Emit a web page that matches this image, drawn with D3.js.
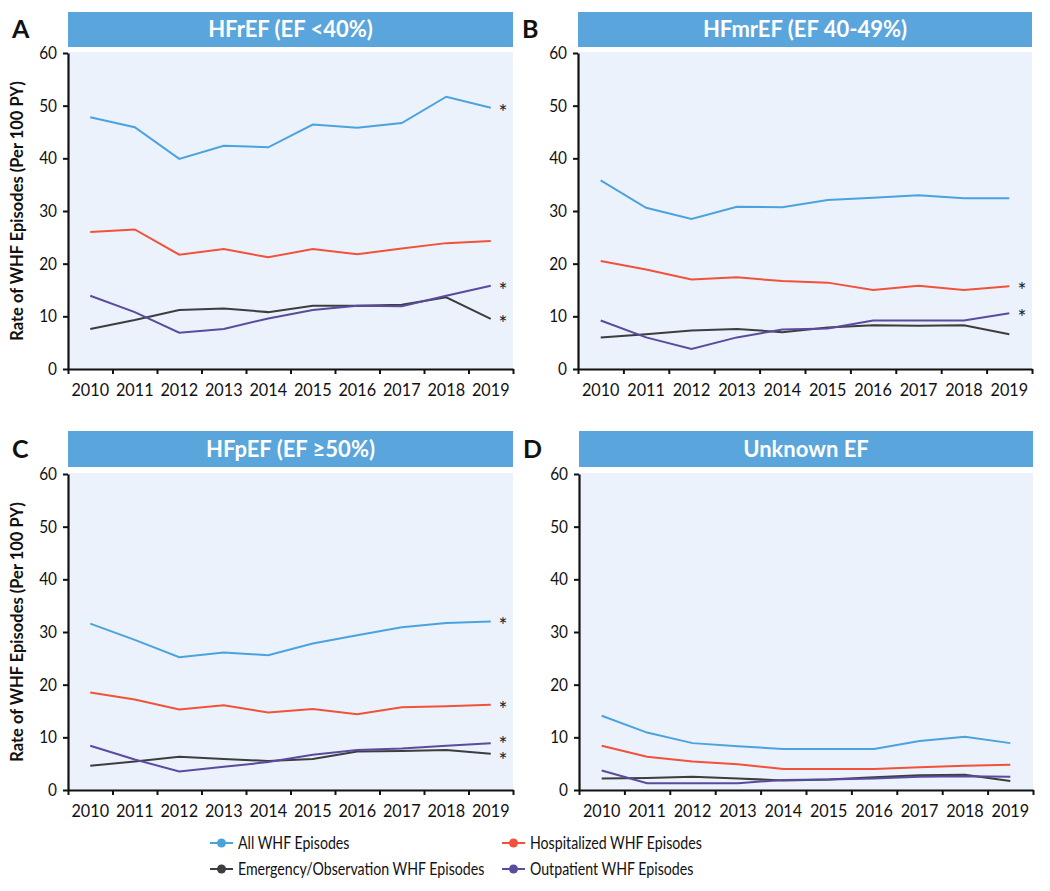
<!DOCTYPE html>
<html>
<head>
<meta charset="utf-8">
<script src="https://cdn.jsdelivr.net/npm/d3@7"></script>
<style>
  body { margin: 0; background: #fff; }
  svg { display: block; font-family: Lato, 'Open Sans', sans-serif; }
</style>
</head>
<body>
<svg id="chart" width="1050" height="891"></svg>
<script>
const years = [2010, 2011, 2012, 2013, 2014, 2015, 2016, 2017, 2018, 2019];
const yTicks = [0, 10, 20, 30, 40, 50, 60];
const seriesNames = [
  'All WHF Episodes',
  'Hospitalized WHF Episodes',
  'Emergency/Observation WHF Episodes',
  'Outpatient WHF Episodes',
];
const seriesColors = ['#4ba3de', '#f2513a', '#3d3d3d', '#5a4b9e'];
const panelLetters = ['A', 'B', 'C', 'D'];
const panelTitles = ['HFrEF (EF <40%)', 'HFmrEF (EF 40-49%)', 'HFpEF (EF ≥50%)', 'Unknown EF'];

// Rates per 100 PY
const hfrefAll = [47.8, 45.9, 39.9, 42.4, 42.1, 46.4, 45.8, 46.7, 51.7, 49.6];
const hfrefHosp = [26.0, 26.5, 21.7, 22.8, 21.2, 22.8, 21.8, 22.9, 23.9, 24.3];
const hfrefEmerg = [7.6, 9.3, 11.2, 11.5, 10.8, 12.0, 12.0, 12.2, 13.6, 9.5];
const hfrefOutpt = [13.9, 10.8, 6.9, 7.6, 9.6, 11.2, 12.0, 11.9, 13.9, 15.8];

const hfmrefAll = [35.8, 30.6, 28.5, 30.8, 30.7, 32.1, 32.5, 33.0, 32.4, 32.4];
const hfmrefHosp = [20.5, 18.9, 17.0, 17.4, 16.7, 16.4, 15.0, 15.8, 15.0, 15.7];
const hfmrefEmerg = [6.0, 6.6, 7.3, 7.6, 7.0, 7.9, 8.3, 8.2, 8.3, 6.6];
const hfmrefOutpt = [9.2, 6.0, 3.8, 6.0, 7.5, 7.7, 9.2, 9.2, 9.2, 10.6];

const hfpefAll = [31.6, 28.5, 25.2, 26.1, 25.6, 27.8, 29.4, 30.9, 31.7, 32.0];
const hfpefHosp = [18.5, 17.2, 15.3, 16.1, 14.7, 15.4, 14.4, 15.7, 15.9, 16.2];
const hfpefEmerg = [4.6, 5.4, 6.3, 5.9, 5.5, 5.9, 7.3, 7.4, 7.6, 6.9];
const hfpefOutpt = [8.4, 5.8, 3.5, 4.4, 5.3, 6.7, 7.6, 7.9, 8.4, 8.9];

const unknownAll = [14.1, 10.9, 8.9, 8.3, 7.8, 7.8, 7.8, 9.3, 10.1, 8.9];
const unknownHosp = [8.4, 6.3, 5.4, 4.9, 4.0, 4.0, 4.0, 4.3, 4.6, 4.8];
const unknownEmerg = [2.2, 2.3, 2.5, 2.2, 1.8, 2.0, 2.4, 2.8, 2.9, 1.7];
const unknownOutpt = [3.7, 1.3, 1.3, 1.3, 1.9, 2.0, 2.2, 2.5, 2.6, 2.5];

// series (by index) flagged with an asterisk at the end of the line
const hfrefStars = [0, 3, 2];
const hfmrefStars = [1, 3];
const hfpefStars = [0, 1, 3, 2];
const unknownStars = [];

const panelData = [
  [hfrefAll, hfrefHosp, hfrefEmerg, hfrefOutpt],
  [hfmrefAll, hfmrefHosp, hfmrefEmerg, hfmrefOutpt],
  [hfpefAll, hfpefHosp, hfpefEmerg, hfpefOutpt],
  [unknownAll, unknownHosp, unknownEmerg, unknownOutpt],
];
const panelStars = [hfrefStars, hfmrefStars, hfpefStars, unknownStars];

// layout of the four panels
const boxes = [
  { left: 68, right: 513, headTop: 12, headBottom: 47, top: 53, bottom: 369, yTitle: true },
  { left: 578, right: 1032, headTop: 12, headBottom: 47, top: 53, bottom: 369, yTitle: false },
  { left: 68, right: 513, headTop: 431, headBottom: 467, top: 474, bottom: 790, yTitle: true },
  { left: 579, right: 1033, headTop: 431, headBottom: 467, top: 474, bottom: 790, yTitle: false },
];

// the original typeface is a semi-condensed sans; squeeze Lato horizontally to match
const squeeze = 0.88;

const svg = d3.select('#chart');

boxes.forEach((b, p) => {
  const g = svg.append('g');

  // header bar
  g.append('rect')
    .attr('x', b.left)
    .attr('y', b.headTop)
    .attr('width', b.right - b.left)
    .attr('height', b.headBottom - b.headTop)
    .attr('fill', '#5aa5dc');
  g.append('text')
    .attr('x', (b.left + b.right) / 2)
    .attr('y', (b.headTop + b.headBottom) / 2 + 7.5)
    .attr('text-anchor', 'middle')
    .attr('fill', '#fff')
    .attr('font-weight', 700)
    .attr('font-size', 22)
    .text(panelTitles[p]);

  // panel letter
  g.append('text')
    .attr('x', b.left - 56)
    .attr('y', (b.headTop + b.headBottom) / 2 + 8.5)
    .attr('font-weight', 700)
    .attr('font-size', 25)
    .attr('fill', '#111')
    .text(panelLetters[p]);

  // plot background
  g.append('rect')
    .attr('x', b.left)
    .attr('y', b.top - 1)
    .attr('width', b.right - b.left)
    .attr('height', b.bottom - b.top + 1)
    .attr('fill', '#ebf2fb');

  const x = d3.scaleBand().domain(years).range([b.left, b.right]).padding(0);
  const xEdges = d3.scaleLinear().domain([0, years.length]).range([b.left, b.right]);
  const y = d3.scaleLinear().domain([0, 60]).range([b.bottom, b.top]);

  // lines
  const line = d3
    .line()
    .x((d, i) => x(years[i]) + x.bandwidth() / 2)
    .y((d) => y(d));

  panelData[p].forEach((values, s) => {
    g.append('path')
      .datum(values)
      .attr('d', line)
      .attr('fill', 'none')
      .attr('stroke', seriesColors[s])
      .attr('stroke-width', 2);
  });

  // asterisks, nudged apart where they would collide
  let stars = panelStars[p].map((s) => ({ s, y: y(panelData[p][s][years.length - 1]) }));
  stars.sort((a, b2) => a.y - b2.y);
  for (let k = 1; k < stars.length; k++) {
    const gap = stars[k].y - stars[k - 1].y;
    if (gap < 16) {
      const push = (16 - gap) / 2;
      stars[k - 1].y -= push;
      stars[k].y += push;
    }
  }
  g.selectAll('.star')
    .data(stars)
    .enter()
    .append('text')
    .attr('class', 'star')
    .attr('x', b.right - 10)
    .attr('y', (d) => d.y + 12)
    .attr('text-anchor', 'middle')
    .attr('font-size', 21)
    .attr('fill', '#222')
    .text('*');

  // x axis: boundary ticks, then centred year labels
  const xTickAxis = g
    .append('g')
    .attr('transform', `translate(0,${b.bottom})`)
    .call(
      d3
        .axisBottom(xEdges)
        .tickValues(d3.range(years.length + 1))
        .tickSize(5)
        .tickSizeOuter(0)
        .tickFormat('')
    );
  xTickAxis.select('.domain').attr('stroke', '#111').attr('stroke-width', 2);
  xTickAxis.selectAll('.tick line').attr('stroke', '#111').attr('stroke-width', 2);

  const xLabelAxis = g
    .append('g')
    .attr('transform', `translate(0,${b.bottom})`)
    .call(d3.axisBottom(x).tickSize(0).tickPadding(14));
  xLabelAxis.select('.domain').remove();
  xLabelAxis
    .selectAll('text')
    .attr('font-size', 18)
    .attr('font-family', 'Lato, sans-serif')
    .attr('transform', 'scale(0.9,1)')
    .attr('fill', '#111');

  // y axis
  const yAxis = g
    .append('g')
    .attr('transform', `translate(${b.left},0)`)
    .call(d3.axisLeft(y).tickValues(yTicks).tickSize(5).tickSizeOuter(0).tickPadding(6));
  yAxis.select('.domain').attr('stroke', '#111').attr('stroke-width', 2.2);
  yAxis.selectAll('.tick line').attr('stroke', '#111').attr('stroke-width', 2);
  yAxis
    .selectAll('text')
    .attr('font-size', 17.5)
    .attr('font-family', 'Lato, sans-serif')
    .attr('x', -11 / squeeze)
    .attr('transform', `scale(${squeeze},1)`)
    .attr('fill', '#111');

  if (b.yTitle) {
    g.append('text')
      .attr('transform', `translate(${b.left - 45},${(b.top + b.bottom) / 2}) rotate(-90)`)
      .attr('text-anchor', 'middle')
      .attr('font-weight', 700)
      .attr('font-size', 16.5)
      .attr('fill', '#111')
      .text('Rate of WHF Episodes (Per 100 PY)');
  }
});

// legend
const legendPos = [
  { x: 210, y: 843 },
  { x: 502, y: 843 },
  { x: 210, y: 869 },
  { x: 502, y: 869 },
];
const legend = svg
  .append('g')
  .selectAll('g')
  .data(seriesNames)
  .enter()
  .append('g')
  .attr('transform', (d, i) => `translate(${legendPos[i].x},${legendPos[i].y})`);
legend
  .append('line')
  .attr('x1', 0)
  .attr('x2', 23)
  .attr('stroke', (d, i) => seriesColors[i])
  .attr('stroke-width', 2);
legend
  .append('circle')
  .attr('cx', 11.5)
  .attr('r', 4.5)
  .attr('fill', (d, i) => seriesColors[i]);
legend
  .append('text')
  .attr('transform', 'translate(28,6) scale(0.81,1)')
  .attr('font-size', 17.5)
  .attr('fill', '#111')
  .text((d) => d);
</script>
</body>
</html>
